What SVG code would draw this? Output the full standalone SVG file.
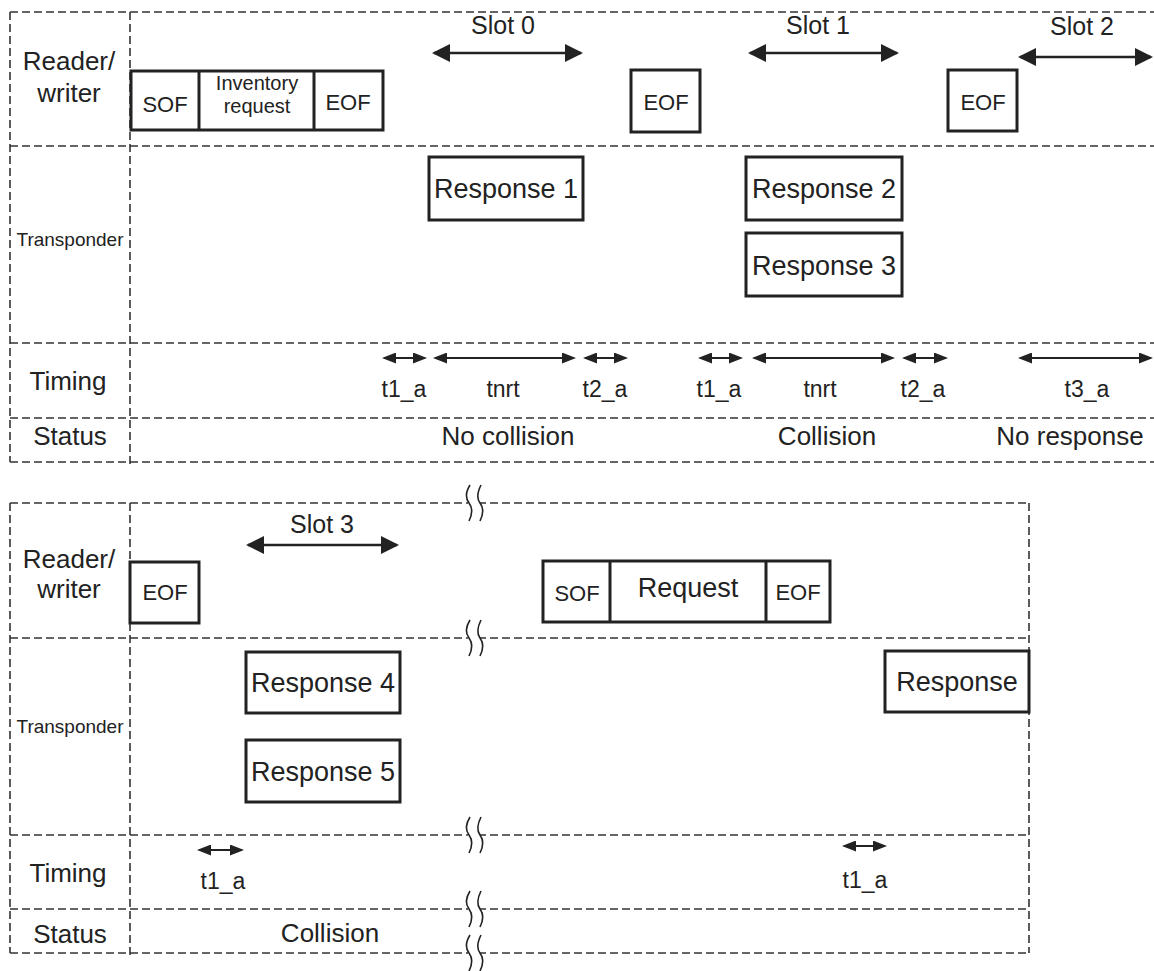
<svg xmlns="http://www.w3.org/2000/svg" width="1154" height="971" viewBox="0 0 1154 971">
<style>
text{font-family:"Liberation Sans",Arial,sans-serif;fill:#222;text-anchor:middle}
.lab{font-size:26px}
.tr{font-size:19px}
.slot{font-size:25px}
.box{fill:#fff;stroke:#222;stroke-width:3}
.bt{font-size:27px}
.fr{font-size:22px}
.inv{font-size:20px}
.tm{font-size:23px}
.dash{stroke:#333;stroke-width:1.6;stroke-dasharray:8 4;fill:none}
.big{stroke:#222;stroke-width:2.5;marker-start:url(#bigHead);marker-end:url(#bigHead)}
.sm{stroke:#222;stroke-width:2.2;marker-start:url(#smHead);marker-end:url(#smHead)}
.brk{fill:none;stroke:#222;stroke-width:1.6}
</style>
<defs>
<marker id="bigHead" viewBox="0 0 18 18" refX="16" refY="9" markerWidth="18" markerHeight="18" markerUnits="userSpaceOnUse" orient="auto-start-reverse"><path d="M0,0 L18,9 L0,18 z" fill="#222"/></marker>
<marker id="smHead" viewBox="0 0 14 11" refX="12" refY="5.5" markerWidth="14" markerHeight="11" markerUnits="userSpaceOnUse" orient="auto-start-reverse"><path d="M0,0 L14,5.5 L0,11 z" fill="#222"/></marker>
<g id="brkmark"><rect x="-6" y="-18" width="12" height="36" fill="#fff"/><path class="brk" d="M-4,-18 C-9,-10 -8,-4 -5,0 C-2,4 -1,10 -5,18"/><path class="brk" d="M7,-18 C3,-10 3,-4 6,0 C9,4 10,10 6,18"/></g>
</defs>
<rect width="1154" height="971" fill="#fff"/>

<g id="grid-top">
<line class="dash" x1="10" y1="12" x2="1154" y2="12"/>
<line class="dash" x1="10" y1="146" x2="1154" y2="146"/>
<line class="dash" x1="10" y1="343" x2="1154" y2="343"/>
<line class="dash" x1="10" y1="418" x2="1154" y2="418"/>
<line class="dash" x1="10" y1="462" x2="1154" y2="462"/>
<line class="dash" x1="10" y1="12" x2="10" y2="462"/>
<line class="dash" x1="130" y1="12" x2="130" y2="466"/>
</g>

<g id="grid-bottom">
<line class="dash" x1="10" y1="503" x2="1029" y2="503"/>
<line class="dash" x1="10" y1="638" x2="1029" y2="638"/>
<line class="dash" x1="10" y1="835" x2="1029" y2="835"/>
<line class="dash" x1="10" y1="909" x2="1029" y2="909"/>
<line class="dash" x1="10" y1="953" x2="1029" y2="953"/>
<line class="dash" x1="10" y1="503" x2="10" y2="953"/>
<line class="dash" x1="130" y1="503" x2="130" y2="956"/>
<line class="dash" x1="1029" y1="503" x2="1029" y2="953"/>
</g>

<g id="break-marks">
<use href="#brkmark" x="474" y="503"/>
<use href="#brkmark" x="474" y="638"/>
<use href="#brkmark" x="474" y="835"/>
<use href="#brkmark" x="474" y="909"/>
<use href="#brkmark" x="474" y="953"/>
</g>

<g id="labels-top">
<text class="lab" x="69" y="70">Reader/</text>
<text class="lab" x="69" y="102">writer</text>
<text class="tr" x="70" y="246">Transponder</text>
<text class="lab" x="68" y="390">Timing</text>
<text class="lab" x="70" y="445">Status</text>
</g>

<g id="labels-bottom">
<text class="lab" x="69" y="568">Reader/</text>
<text class="lab" x="69" y="598">writer</text>
<text class="tr" x="70" y="733">Transponder</text>
<text class="lab" x="68" y="882">Timing</text>
<text class="lab" x="70" y="943">Status</text>
</g>

<g id="frame-inventory">
<rect class="box" x="131" y="71" width="252" height="59"/>
<line x1="199" y1="71" x2="199" y2="130" stroke="#222" stroke-width="3"/>
<line x1="314" y1="71" x2="314" y2="130" stroke="#222" stroke-width="3"/>
<text class="fr" x="165" y="112">SOF</text>
<text class="inv" x="257" y="90">Inventory</text>
<text class="inv" x="257" y="113">request</text>
<text class="fr" x="348" y="110">EOF</text>
</g>

<g id="eof-1"><rect class="box" x="631" y="70" width="69" height="62"/><text class="fr" x="666" y="110">EOF</text></g>
<g id="eof-2"><rect class="box" x="948" y="70" width="69" height="61"/><text class="fr" x="983" y="110">EOF</text></g>

<g id="slot-labels">
<text class="slot" x="503" y="34">Slot 0</text>
<text class="slot" x="818" y="34">Slot 1</text>
<text class="slot" x="1082" y="35">Slot 2</text>
<text class="slot" x="322" y="533">Slot 3</text>
</g>

<g id="response-1"><rect class="box" x="429" y="157" width="154" height="63"/><text class="bt" x="506" y="198">Response 1</text></g>
<g id="response-2"><rect class="box" x="746" y="157" width="156" height="63"/><text class="bt" x="824" y="198">Response 2</text></g>
<g id="response-3"><rect class="box" x="746" y="233" width="156" height="63"/><text class="bt" x="824" y="275">Response 3</text></g>

<g id="timing-labels-top">
<text class="tm" x="404" y="397">t1_a</text>
<text class="tm" x="503" y="397">tnrt</text>
<text class="tm" x="605" y="397">t2_a</text>
<text class="tm" x="719" y="397">t1_a</text>
<text class="tm" x="820" y="397">tnrt</text>
<text class="tm" x="923" y="397">t2_a</text>
<text class="tm" x="1087" y="397">t3_a</text>
</g>

<g id="status-top">
<text class="lab" x="508" y="445">No collision</text>
<text class="lab" x="827" y="445">Collision</text>
<text class="lab" x="1070" y="445">No response</text>
</g>

<g id="eof-3"><rect class="box" x="130" y="562" width="69" height="61"/><text class="fr" x="165" y="600">EOF</text></g>

<g id="frame-request">
<rect class="box" x="543" y="561" width="287" height="61"/>
<line x1="610" y1="561" x2="610" y2="622" stroke="#222" stroke-width="3"/>
<line x1="766" y1="561" x2="766" y2="622" stroke="#222" stroke-width="3"/>
<text class="fr" x="577" y="601">SOF</text>
<text class="bt" x="688" y="597">Request</text>
<text class="fr" x="798" y="600">EOF</text>
</g>

<g id="response-4"><rect class="box" x="246" y="652" width="154" height="61"/><text class="bt" x="323" y="692">Response 4</text></g>
<g id="response-5"><rect class="box" x="246" y="740" width="154" height="62"/><text class="bt" x="323" y="781">Response 5</text></g>
<g id="response-6"><rect class="box" x="885" y="651" width="144" height="61"/><text class="bt" x="957" y="691">Response</text></g>

<g id="timing-labels-bottom">
<text class="tm" x="223" y="889">t1_a</text>
<text class="tm" x="865" y="888">t1_a</text>
</g>
<g id="status-bottom"><text class="lab" x="330" y="942">Collision</text></g>

<g id="connectors">
<line class="big" x1="434" y1="53" x2="581" y2="53"/>
<line class="big" x1="750" y1="53" x2="897" y2="53"/>
<line class="big" x1="1020" y1="57" x2="1151" y2="57"/>
<line class="big" x1="248" y1="545" x2="397" y2="545"/>
<line class="sm" x1="384" y1="358" x2="425" y2="358"/>
<line class="sm" x1="435" y1="358" x2="574" y2="358"/>
<line class="sm" x1="585" y1="358" x2="626" y2="358"/>
<line class="sm" x1="700" y1="358" x2="741" y2="358"/>
<line class="sm" x1="754" y1="358" x2="893" y2="358"/>
<line class="sm" x1="904" y1="358" x2="946" y2="358"/>
<line class="sm" x1="1020" y1="358" x2="1151" y2="358"/>
<line class="sm" x1="199" y1="850" x2="242" y2="850"/>
<line class="sm" x1="844" y1="846" x2="885" y2="846"/>
</g>
</svg>
